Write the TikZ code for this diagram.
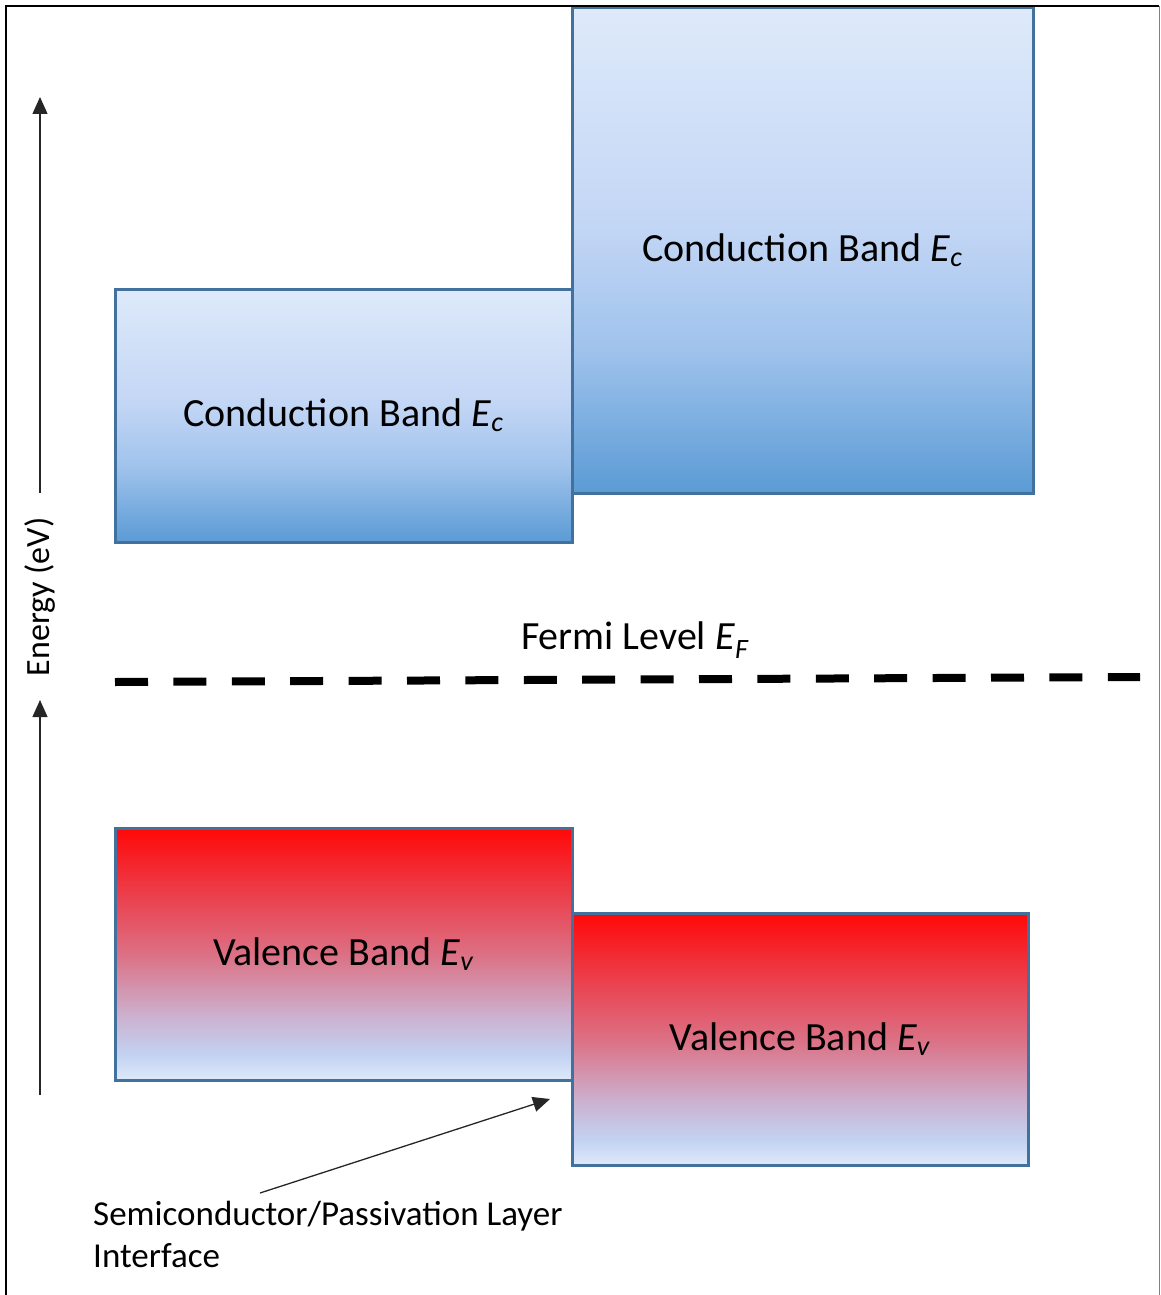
\documentclass[tikz,border=0pt]{standalone}
\usepackage{fontspec}
\setmainfont{Carlito}
\usetikzlibrary{arrows.meta}

\definecolor{cbtop}{RGB}{222,234,250}
\definecolor{cbmida}{RGB}{195,214,245}
\definecolor{cbmidb}{RGB}{160,195,236}
\definecolor{cbbot}{RGB}{91,155,213}
\definecolor{vbtop}{RGB}{255,8,8}
\definecolor{vbmida}{RGB}{236,60,72}
\definecolor{vbmidb}{RGB}{220,112,132}
\definecolor{vbmidc}{RGB}{203,178,208}
\definecolor{vbmidd}{RGB}{195,210,242}
\definecolor{vbbot}{RGB}{221,233,250}
\definecolor{bandedge}{RGB}{65,113,156}

\pgfdeclareverticalshading{cbshade}{100bp}{color(0bp)=(cbbot); color(25bp)=(cbbot); color(40bp)=(cbmidb); color(52.5bp)=(cbmida); color(75bp)=(cbtop); color(100bp)=(cbtop)}
\pgfdeclareverticalshading{vbshade}{100bp}{color(0bp)=(vbbot); color(25bp)=(vbbot); color(30bp)=(vbmidd); color(37.5bp)=(vbmidc); color(50bp)=(vbmidb); color(62.5bp)=(vbmida); color(75bp)=(vbtop); color(100bp)=(vbtop)}

\newcommand{\bandsym}[2]{\textit{#1}\textsubscript{\textit{#2}}}

\tikzset{
	biglabel/.style={font=\fontsize{40}{48}\selectfont},
	band/.style={rectangle, draw=bandedge, line width=3pt, inner sep=0pt, biglabel},
	cband/.style={band, shading=cbshade},
	vband/.style={band, shading=vbshade},
	axisarrow/.style={-{Triangle[length=17pt,width=15pt]}, line width=1.3pt, black!85}
}

\begin{document}
\begin{tikzpicture}[x=1pt, y=-1pt, font=\fontsize{34}{41}\selectfont]
	\useasboundingbox (0,0) rectangle (1160,1295);

	\draw
	(343.5,415.5) node [cband, minimum width=457pt, minimum height=253pt] (cbL) {Conduction Band \bandsym{E}{c}}
	(802.5,250.5) node [cband, minimum width=461pt, minimum height=485pt] (cbR) {Conduction Band \bandsym{E}{c}};

	\draw
	(343.5,954) node [vband, minimum width=457pt, minimum height=252pt] (vbL) {Valence Band \bandsym{E}{v}}
	(800,1039) node [vband, minimum width=456pt, minimum height=252pt] (vbR) {Valence Band \bandsym{E}{v}};

	\draw
	(635,640) node [biglabel] (fermi) {Fermi Level \bandsym{E}{F}}
	(115,682) coordinate (fL)
	(1140,677) coordinate (fR);
	\draw[line width=8pt, dash pattern=on 33pt off 25.4pt] (fL) -- (fR);

	\draw
	(40,597) node [rotate=90] (energy) {Energy (eV)}
	(40,493) coordinate (eA1)
	(40,97) coordinate (eA2)
	(40,1095) coordinate (eB1)
	(40,700) coordinate (eB2);
	\draw[axisarrow] (eA1) -- (eA2);
	\draw[axisarrow] (eB1) -- (eB2);

	\draw
	(93,1234) node [anchor=west, align=left, inner sep=0pt, font=\fontsize{35}{42}\selectfont] (iface) {Semiconductor/Passivation Layer\\Interface}
	(260,1193) coordinate (ifT)
	(550,1099) coordinate (ifH);
	\draw[axisarrow] (ifT) -- (ifH);

	\draw[line width=2pt] (6,1295) -- (6,6) -- (1159,6);
	\draw[gray, line width=1pt] (1159,6) -- (1159,1295);
\end{tikzpicture}
\end{document}
